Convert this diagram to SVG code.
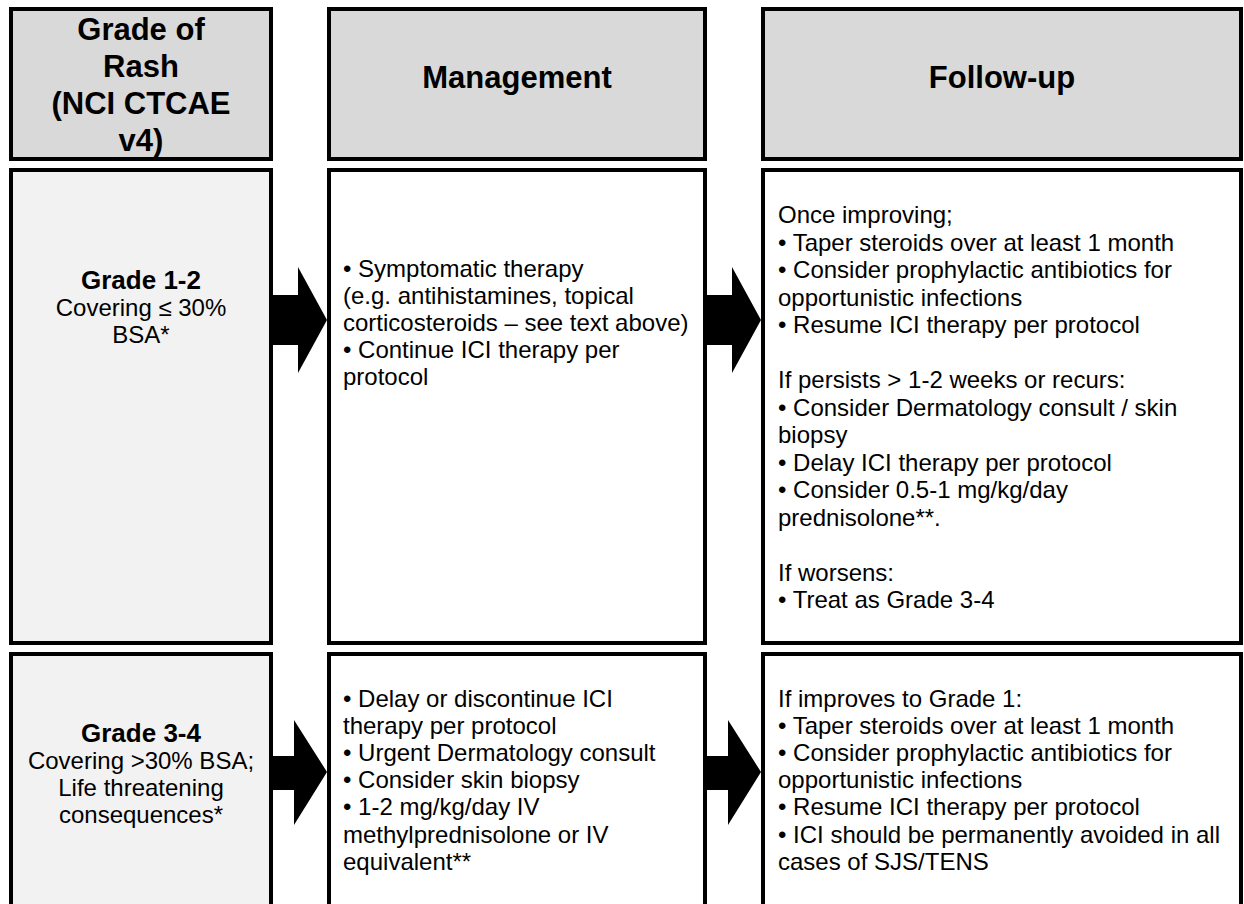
<svg xmlns="http://www.w3.org/2000/svg" width="1244" height="904" viewBox="0 0 1244 904">
<style>
.box{stroke:#000;stroke-width:4}
.hd{fill:#d9d9d9}
.g{fill:#f2f2f2}
.w{fill:#fff}
text{font-family:"Liberation Sans",Arial,sans-serif;fill:#000}
.h{font-size:31px;font-weight:bold;text-anchor:middle}
.gb{font-size:26px;font-weight:bold;text-anchor:middle}
.gt{font-size:24px;text-anchor:middle}
.t{font-size:24px}
.arr{fill:#000}
</style>
<rect x="0" y="0" width="1244" height="904" fill="#fff"/>
<g id="hdr-grade">
<rect class="box hd" x="11" y="9" width="260" height="150"/>
<text class="h"><tspan x="141" y="40">Grade of</tspan><tspan x="141" y="77">Rash</tspan><tspan x="141" y="114">(NCI CTCAE</tspan><tspan x="141" y="151">v4)</tspan></text>
</g>
<g id="hdr-management">
<rect class="box hd" x="329" y="9" width="376" height="150"/>
<text class="h" x="517" y="88">Management</text>
</g>
<g id="hdr-followup">
<rect class="box hd" x="763" y="9" width="478" height="150"/>
<text class="h" x="1002" y="88">Follow-up</text>
</g>
<g id="grade12">
<rect class="box g" x="11" y="170" width="260" height="473"/>
<text class="gb" x="141" y="289">Grade 1-2</text>
<text class="gt"><tspan x="141" y="316">Covering ≤ 30%</tspan><tspan x="141" y="343">BSA*</tspan></text>
</g>
<g id="mgmt12">
<rect class="box w" x="329" y="170" width="376" height="473"/>
<text class="t"><tspan x="343" y="277">• Symptomatic therapy</tspan><tspan x="343" y="304">(e.g. antihistamines, topical</tspan><tspan x="343" y="331">corticosteroids – see text above)</tspan><tspan x="343" y="358">• Continue ICI therapy per</tspan><tspan x="343" y="385">protocol</tspan></text>
</g>
<g id="follow12">
<rect class="box w" x="763" y="170" width="478" height="473"/>
<text class="t"><tspan x="778" y="223">Once improving;</tspan><tspan x="778" y="250.5">• Taper steroids over at least 1 month</tspan><tspan x="778" y="278">• Consider prophylactic antibiotics for</tspan><tspan x="778" y="305.5">opportunistic infections</tspan><tspan x="778" y="333">• Resume ICI therapy per protocol</tspan><tspan x="778" y="388">If persists &gt; 1-2 weeks or recurs:</tspan><tspan x="778" y="415.5">• Consider Dermatology consult / skin</tspan><tspan x="778" y="443">biopsy</tspan><tspan x="778" y="470.5">• Delay ICI therapy per protocol</tspan><tspan x="778" y="498">• Consider 0.5-1 mg/kg/day</tspan><tspan x="778" y="525.5">prednisolone**.</tspan><tspan x="778" y="580.5">If worsens:</tspan><tspan x="778" y="608">• Treat as Grade 3-4</tspan></text>
</g>
<g id="grade34">
<rect class="box g" x="11" y="654" width="260" height="270"/>
<text class="gb" x="141" y="742">Grade 3-4</text>
<text class="gt"><tspan x="141" y="769">Covering &gt;30% BSA;</tspan><tspan x="141" y="796">Life threatening</tspan><tspan x="141" y="823">consequences*</tspan></text>
</g>
<g id="mgmt34">
<rect class="box w" x="329" y="654" width="376" height="270"/>
<text class="t"><tspan x="343" y="707">• Delay or discontinue ICI</tspan><tspan x="343" y="734">therapy per protocol</tspan><tspan x="343" y="761">• Urgent Dermatology consult</tspan><tspan x="343" y="788">• Consider skin biopsy</tspan><tspan x="343" y="815">• 1-2 mg/kg/day IV</tspan><tspan x="343" y="843">methylprednisolone or IV</tspan><tspan x="343" y="870">equivalent**</tspan></text>
</g>
<g id="follow34">
<rect class="box w" x="763" y="654" width="478" height="270"/>
<text class="t"><tspan x="778" y="707">If improves to Grade 1:</tspan><tspan x="778" y="734">• Taper steroids over at least 1 month</tspan><tspan x="778" y="761">• Consider prophylactic antibiotics for</tspan><tspan x="778" y="788">opportunistic infections</tspan><tspan x="778" y="815">• Resume ICI therapy per protocol</tspan><tspan x="778" y="843">• ICI should be permanently avoided in all</tspan><tspan x="778" y="870">cases of SJS/TENS</tspan></text>
</g>
<g id="connectors">
<polygon class="arr" points="273,295 298,295 298,267 327,320 298,373 298,345 273,345"/>
<polygon class="arr" points="707,295 732,295 732,267 761,320 732,373 732,345 707,345"/>
<polygon class="arr" points="273,756 294,756 294,720 327,772 294,825 294,790 273,790"/>
<polygon class="arr" points="707,756 728,756 728,720 761,772 728,825 728,790 707,790"/>
</g>
</svg>
